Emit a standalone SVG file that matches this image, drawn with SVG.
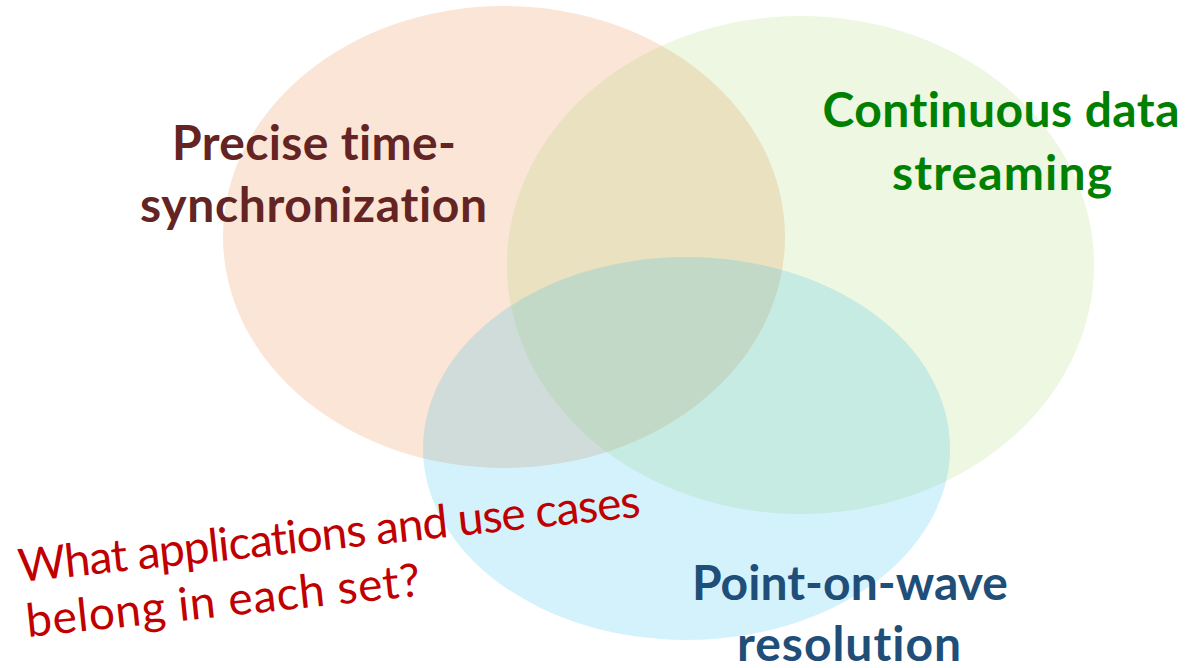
<svg xmlns="http://www.w3.org/2000/svg" width="1191" height="668" viewBox="0 0 1191 668">
  <style>
    text { font-variant-ligatures: none; font-feature-settings: "liga" 0, "dlig" 0; }
    .title { font-family: Lato, "Open Sans", "Liberation Sans", sans-serif; font-weight: 700; font-size: 48px; text-anchor: middle; }
    .q { font-family: Lato, "Open Sans", "Liberation Sans", sans-serif; font-weight: 400; font-size: 46px; fill: #C00000; }
  </style>
  <rect width="1191" height="668" fill="#FFFFFF"/>
  <g id="set-time-sync">
    <ellipse cx="504" cy="237" rx="281" ry="231" fill="#ED7D31" fill-opacity="0.2"/>
  </g>
  <g id="set-streaming">
    <ellipse cx="800.5" cy="265" rx="293.5" ry="249" fill="#92D050" fill-opacity="0.17"/>
  </g>
  <g id="set-pow">
    <ellipse cx="686.5" cy="448.5" rx="263.5" ry="191.5" fill="#00B0F0" fill-opacity="0.17"/>
  </g>
  <g id="label-time-sync" fill="#632423">
    <text class="title" x="314" y="160" textLength="284">Precise time-</text>
    <text class="title" x="313.5" y="222" textLength="347">synchronization</text>
  </g>
  <g id="label-streaming" fill="#008000">
    <text class="title" x="1001" y="127" textLength="357">Continuous data</text>
    <text class="title" x="1002" y="190" textLength="220">streaming</text>
  </g>
  <g id="label-pow" fill="#1F4E79">
    <text class="title" x="850" y="599.5" textLength="316">Point-on-wave</text>
    <text class="title" x="849" y="661" textLength="224">resolution</text>
  </g>
  <g id="question" transform="translate(20,582) rotate(-6)">
    <text class="q" x="0" y="0" textLength="625">What applications and use cases</text>
    <text class="q" x="2" y="55.5" textLength="396">belong in each set?</text>
  </g>
  <g id="connectors"></g>
</svg>
